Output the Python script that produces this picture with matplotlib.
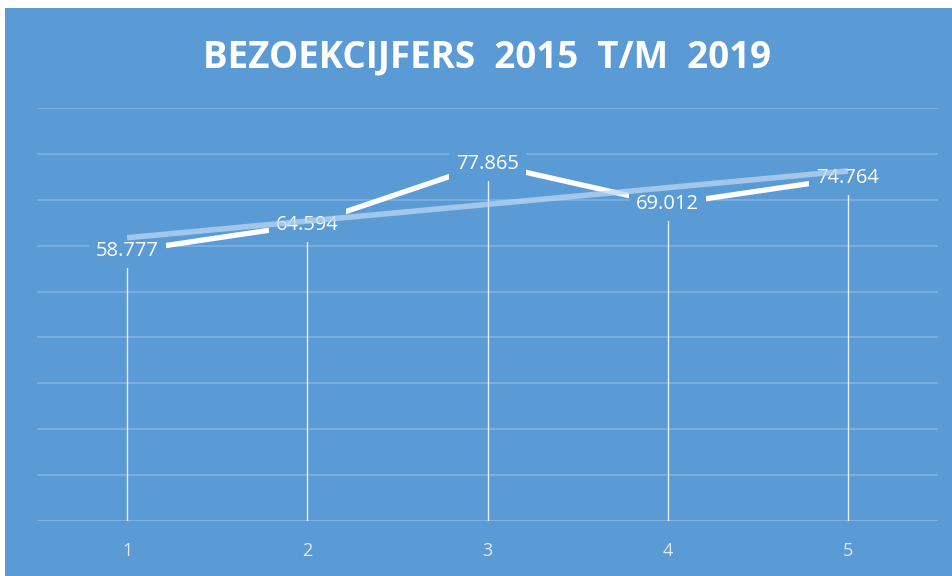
import matplotlib.pyplot as plt
import numpy as np
from matplotlib.patches import Rectangle

# data
categories = [1, 2, 3, 4, 5]
visitors = [58.777, 64.594, 77.865, 69.012, 74.764]
labels = ['58.777', '64.594', '77.865', '69.012', '74.764']
title = 'BEZOEKCIJFERS  2015  T/M  2019'

bg = '#5B9BD5'
grid = '#7DB1E2'

fig = plt.figure(figsize=(9.52, 5.76), dpi=100, facecolor='white')
fig.add_artist(Rectangle((5 / 952, 0), 1, 1 - 8 / 576, transform=fig.transFigure,
                         facecolor=bg, edgecolor='none', zorder=-5))

ax = fig.add_axes([37 / 952, 1 - 521 / 576, 901 / 952, 413 / 576])
ax.set_zorder(1)
ax.set_facecolor('none')
ax.set_xlim(0.5, 5.5)
ax.set_ylim(0, 90)

ax.set_yticks(np.arange(0, 91, 10))
ax.yaxis.grid(True, color=grid, lw=1.2)
ax.set_yticklabels([])
ax.tick_params(axis='y', length=0)
for s in ax.spines.values():
    s.set_visible(False)
ax.axhline(0, color='#8EBDE8', lw=2, zorder=1)

ax.set_xticks(categories)
ax.set_xticklabels([str(c) for c in categories], color='#DCE9F6', fontsize=13, family='Open Sans')
ax.tick_params(axis='x', length=0, pad=15)

# drop lines
ax.vlines(categories, 0, visitors, colors='white', lw=1, alpha=0.85, zorder=2)

# main line
ax.plot(categories, visitors, color='white', lw=3.8, solid_capstyle='butt', zorder=3)

# data labels
for x, y, t in zip(categories, visitors, labels):
    ax.text(x, y, t, ha='center', va='center', color='white', fontsize=14.5, family='Open Sans',
            bbox=dict(boxstyle='square,pad=0.35', facecolor=bg, edgecolor='none'), zorder=4)

# linear trendline
k, b = np.polyfit(categories, visitors, 1)
xs = np.array([categories[0], categories[-1]])
ax.plot(xs, k * xs + b, color='#BBD6F2', lw=4, alpha=0.75, solid_capstyle='butt', zorder=5)

fig.text(487 / 952, 1 - 57 / 576, title, ha='center', va='center', color='white',
         fontsize=26.5, fontweight='bold', family='Open Sans')

plt.savefig('out.png', dpi=100, facecolor='white')
